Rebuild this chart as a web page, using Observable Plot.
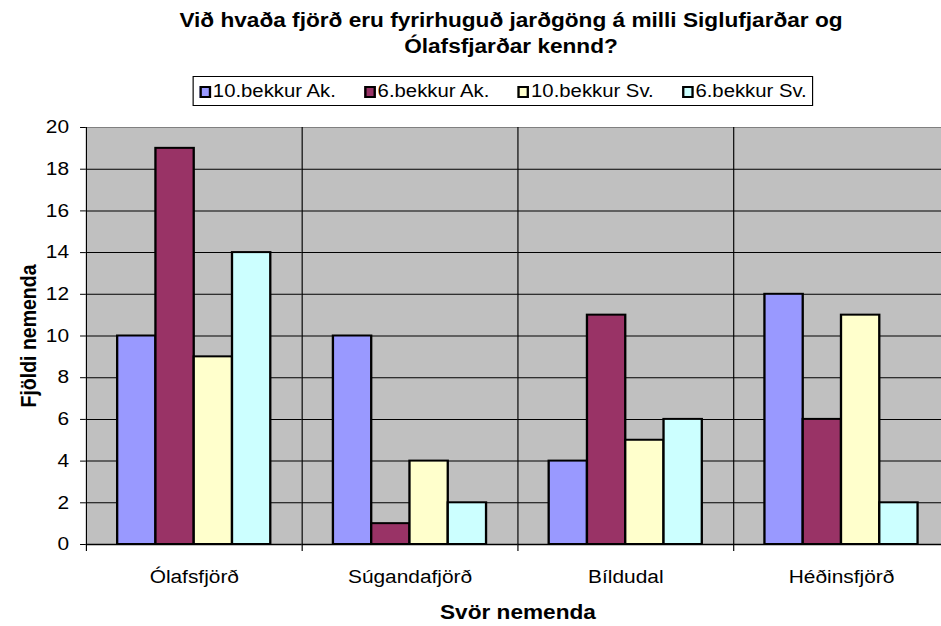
<!DOCTYPE html>
<html><head><meta charset="utf-8">
<script src="https://cdn.jsdelivr.net/npm/d3@7"></script>
<script src="https://cdn.jsdelivr.net/npm/@observablehq/plot@0.6"></script>
<style>
body{margin:0;overflow:hidden;background:#fff;font-family:"Liberation Sans",Arial,sans-serif;color:#000}
#wrap{position:relative;width:941px;height:626px;overflow:hidden}
#head{position:relative;width:811px;height:110px;transform:scaleX(1.16);transform-origin:0 0}
#title{position:absolute;left:0;top:7px;width:881px;text-align:center;font-weight:bold;font-size:19.5px;line-height:26px;}
#legend{position:absolute;left:165.5px;top:76px;width:533px;height:28px;border:1px solid #000;box-sizing:content-box;display:flex;align-items:center;justify-content:space-between;padding:0;font-size:17.5px;}
#legend .inner{display:flex;align-items:center;justify-content:space-between;width:100%;padding:0 4px 0 5px}
.item{display:flex;align-items:center;white-space:pre}
.sw{width:6px;height:8px;border:2px solid #000;margin-right:2px;margin-top:1px}
#chart svg{transform:scaleX(1.16);transform-origin:0 0;display:block}
svg g[aria-label="y-axis label"] text, svg g[aria-label="fx-axis label"] text{font-weight:bold;font-size:19.5px}
</style>
</head><body>
<div id="wrap">
  <div id="head">
    <div id="title">Við hvaða fjörð eru fyrirhuguð jarðgöng á milli Siglufjarðar og<br>Ólafsfjarðar kennd?</div>
    <div id="legend"><div class="inner" id="legendInner"></div></div>
  </div>
  <div id="chart"></div>
</div>
<script>
const categories = ["Ólafsfjörð", "Súgandafjörð", "Bíldudal", "Héðinsfjörð"];
const series = ["10.bekkur Ak.", "6.bekkur Ak.", "10.bekkur Sv.", "6.bekkur Sv."];
const colors = ["#9999FF", "#993366", "#FFFFCC", "#CCFFFF"];
const v10Ak = [10, 10, 4, 12];
const v6Ak = [19, 1, 11, 6];
const v10Sv = [9, 4, 5, 11];
const v6Sv = [14, 2, 6, 2];
const yTicks = [0, 2, 4, 6, 8, 10, 12, 14, 16, 18, 20];
const gridTicks = [2, 4, 6, 8, 10, 12, 14, 16, 18];

const seriesValues = [v10Ak, v6Ak, v10Sv, v6Sv];
const rows = [];
categories.forEach((c, i) => {
  series.forEach((s, j) => rows.push({cat: c, series: s, value: seriesValues[j][i]}));
});

const legend = document.getElementById("legendInner");
series.forEach((s, j) => {
  const it = document.createElement("div");
  it.className = "item";
  const sw = document.createElement("div");
  sw.className = "sw";
  sw.style.background = colors[j];
  const t = document.createElement("span");
  t.textContent = s;
  it.appendChild(sw); it.appendChild(t);
  legend.appendChild(it);
});

const chart = Plot.plot({
  width: 818, height: 516,
  marginTop: 17, marginBottom: 82, marginLeft: 74, marginRight: 0,
  style: {fontFamily: "'Liberation Sans', Arial, sans-serif", fontSize: "18px", color: "#000", background: "transparent", overflow: "visible", maxWidth: "none"},
  fx: {domain: categories, padding: 0},
  x: {domain: series, paddingInner: 0, paddingOuter: 0.75, axis: null},
  y: {domain: [0, 20]},
  color: {domain: series, range: colors},
  marks: [
    Plot.frame({fill: "#C0C0C0", stroke: "none"}),
    Plot.gridY(gridTicks, {stroke: "#000", strokeOpacity: 1}),
    Plot.frame({anchor: "top", stroke: "#808080"}),
    Plot.barY(rows, {fx: "cat", x: "series", y: "value", fill: "series", stroke: "#000", strokeWidth: 2}),
    Plot.frame({anchor: "left", stroke: "#000", insetBottom: -6}),
    Plot.ruleY([0], {stroke: "#000", strokeWidth: 1.5}),
    Plot.axisY(yTicks, {tickSize: 5, tickPadding: 10, label: "Fjöldi nemenda", labelAnchor: "center", labelArrow: "none", labelOffset: 57, fontSize: 18}),
    Plot.axisFx({anchor: "bottom", tickSize: 0, tickPadding: 26, label: "Svör nemenda", labelAnchor: "center", labelArrow: "none", labelOffset: 74, fontSize: 18})
  ]
});
document.getElementById("chart").appendChild(chart);
</script>
</body></html>
